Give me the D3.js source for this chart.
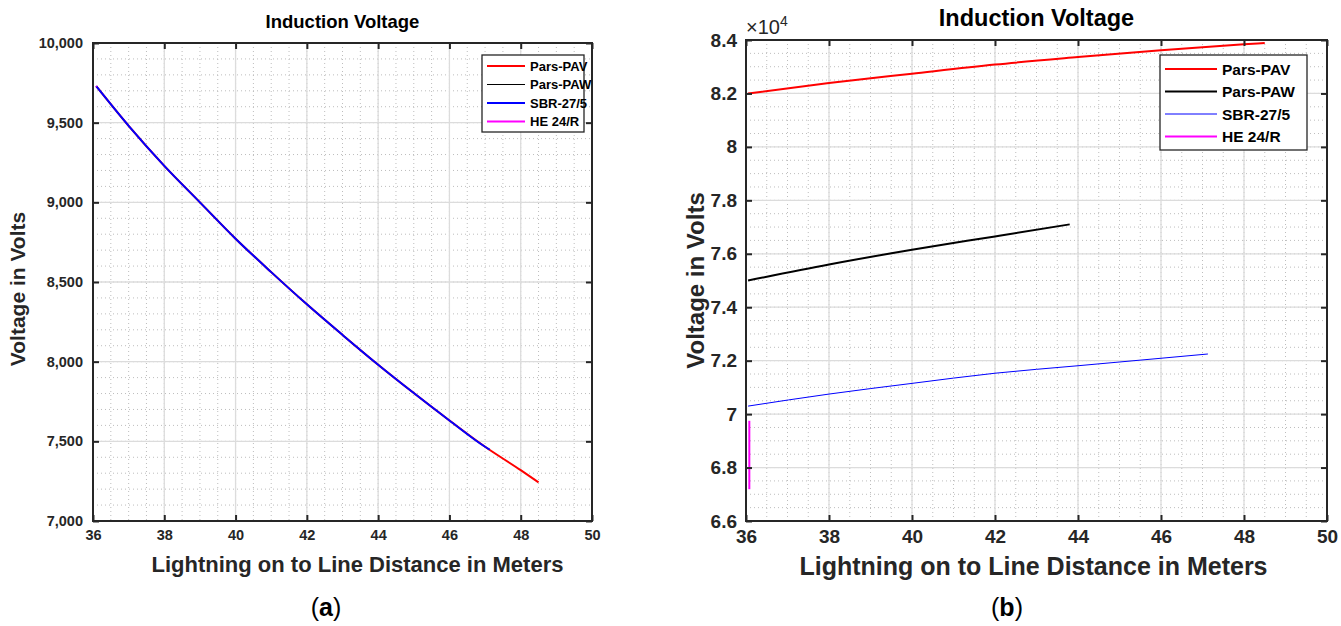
<!DOCTYPE html>
<html><head><meta charset="utf-8">
<script src="https://cdn.jsdelivr.net/npm/d3@7"></script>
<style>
body{margin:0;background:#fff}
text{font-family:"Liberation Sans",Arial,Helvetica,sans-serif}
</style>
</head><body>
<svg id="c" width="1341" height="626"></svg>
<script>
// ---------- data ----------
const seriesNames  = ["Pars-PAV", "Pars-PAW", "SBR-27/5", "HE 24/R"];
const seriesColors = ["#ff0000", "#000000", "#0000ff", "#ff00ff"];

const xTicks  = [36, 38, 40, 42, 44, 46, 48, 50];
const yTicksA = [7000, 7500, 8000, 8500, 9000, 9500, 10000];
const yTicksB = [66000, 68000, 70000, 72000, 74000, 76000, 78000, 80000, 82000, 84000];

// panel (a)
const aPAV_x = [36.09, 37, 38, 39, 40, 41, 42, 43, 44, 45, 46, 47, 48, 48.5];
const aPAV_y = [9729, 9480, 9229, 9000, 8772, 8562, 8360, 8168, 7981, 7803, 7631, 7466, 7319, 7242];
const aPAW_x = [36.09, 37, 38, 39, 40, 41, 42, 43, 43.8];
const aPAW_y = [9729, 9480, 9229, 9000, 8772, 8562, 8360, 8168, 8018];
const aSBR_x = [36.09, 37, 38, 39, 40, 41, 42, 43, 44, 45, 46, 47, 47.13];
const aSBR_y = [9729, 9480, 9229, 9000, 8772, 8562, 8360, 8168, 7981, 7803, 7631, 7466, 7448];
const aHE_x  = [36.09, 36.1];
const aHE_y  = [9729, 9726];

// panel (b)
const bPAV_x = [36.05, 38, 40, 42, 44, 46, 48, 48.5];
const bPAV_y = [82000, 82390, 82740, 83080, 83360, 83620, 83840, 83890];
const bPAW_x = [36.05, 38, 40, 42, 43.8];
const bPAW_y = [75000, 75600, 76150, 76650, 77100];
const bSBR_x = [36.05, 38, 40, 42, 44, 46, 47.13];
const bSBR_y = [70300, 70750, 71150, 71530, 71810, 72090, 72250];
const bHE_x  = [36.08, 36.08];
const bHE_y  = [67190, 69750];

const svg = d3.select("#c");
svg.append("rect").attr("width",1341).attr("height",626).attr("fill","#fff");

function panel(cfg){
  const g = svg.append("g");
  const x = d3.scaleLinear().domain([36,50]).range([cfg.x0, cfg.x1]);
  const y = d3.scaleLinear().domain(cfg.yDom).range([cfg.y1, cfg.y0]);
  const axCol = "#262626";

  // minor grid
  const xMinor = d3.range(36, 50.0001, 0.5);
  const yMinor = d3.range(cfg.yDom[0], cfg.yDom[1] + 1e-6, cfg.yMinorStep);
  g.append("g").selectAll("line").data(xMinor).join("line")
    .attr("x1", d=>x(d)).attr("x2", d=>x(d)).attr("y1", cfg.y0).attr("y2", cfg.y1)
    .attr("stroke","#bdbdbd").attr("stroke-width",1).attr("stroke-dasharray","1,3");
  g.append("g").selectAll("line").data(yMinor).join("line")
    .attr("y1", d=>y(d)).attr("y2", d=>y(d)).attr("x1", cfg.x0).attr("x2", cfg.x1)
    .attr("stroke","#bdbdbd").attr("stroke-width",1).attr("stroke-dasharray","1,3");
  // major grid
  g.append("g").selectAll("line").data(xTicks).join("line")
    .attr("x1", d=>x(d)).attr("x2", d=>x(d)).attr("y1", cfg.y0).attr("y2", cfg.y1)
    .attr("stroke","#dcdcdc").attr("stroke-width",1.3);
  g.append("g").selectAll("line").data(cfg.yTicks).join("line")
    .attr("y1", d=>y(d)).attr("y2", d=>y(d)).attr("x1", cfg.x0).attr("x2", cfg.x1)
    .attr("stroke","#dcdcdc").attr("stroke-width",1.3);

  // data
  const line = d3.line().x(d=>x(d[0])).y(d=>y(d[1])).curve(d3.curveMonotoneX);
  cfg.series.forEach((s,i)=>{
    const pts = s.x.map((v,k)=>[v, s.y[k]]);
    const ln = (s.x[0] === s.x[s.x.length-1]) ? d3.line().x(d=>x(d[0])).y(d=>y(d[1])) : line;
    g.append("path").attr("d", ln(pts)).attr("fill","none")
      .attr("stroke", seriesColors[i]).attr("stroke-width", cfg.widths[i]);
  });

  // axes (inward ticks)
  const ax = g.append("g").attr("transform",`translate(0,${cfg.y1})`)
    .call(d3.axisBottom(x).tickValues(xTicks).tickSize(-6).tickPadding(cfg.xPad));
  const axT = g.append("g").attr("transform",`translate(0,${cfg.y0})`)
    .call(d3.axisTop(x).tickValues(xTicks).tickSize(-6).tickFormat(""));
  const ay = g.append("g").attr("transform",`translate(${cfg.x0},0)`)
    .call(d3.axisLeft(y).tickValues(cfg.yTicks).tickSize(-6).tickPadding(cfg.yPad).tickFormat(cfg.yFmt));
  const ayR = g.append("g").attr("transform",`translate(${cfg.x1},0)`)
    .call(d3.axisRight(y).tickValues(cfg.yTicks).tickSize(-6).tickFormat(""));
  [ax,axT,ay,ayR].forEach(a=>{
    a.select(".domain").remove();
    a.selectAll(".tick line").attr("stroke",axCol).attr("stroke-width",2);
    a.selectAll(".tick text").attr("fill",axCol).attr("font-weight","bold")
      .attr("font-size",cfg.tickFs).attr("font-family",'"Liberation Sans",Arial,sans-serif');
  });
  // box
  g.append("rect").attr("x",cfg.x0).attr("y",cfg.y0)
    .attr("width",cfg.x1-cfg.x0).attr("height",cfg.y1-cfg.y0)
    .attr("fill","none").attr("stroke",axCol).attr("stroke-width",2);

  // title & labels
  g.append("text").attr("x",(cfg.x0+cfg.x1)/2).attr("y",cfg.titleY)
    .attr("text-anchor","middle").attr("font-weight","bold").attr("font-size",cfg.titleFs)
    .attr("fill","#000").text("Induction Voltage");
  g.append("text").attr("x",(cfg.x0+cfg.x1)/2 + cfg.xLabDx).attr("y",cfg.xLabY)
    .attr("text-anchor","middle").attr("font-weight","bold").attr("font-size",cfg.xLabFs)
    .attr("fill",axCol).text("Lightning on to Line Distance in Meters");
  g.append("text").attr("transform",`translate(${cfg.yLabX},${(cfg.y0+cfg.y1)/2 + cfg.yLabDy}) rotate(-90)`)
    .attr("text-anchor","middle").attr("font-weight","bold").attr("font-size",cfg.yLabFs)
    .attr("fill",axCol).text("Voltage in Volts");

  // legend
  const L = cfg.leg;
  const lg = g.append("g");
  lg.append("rect").attr("x",L.x).attr("y",L.y).attr("width",L.w).attr("height",L.h)
    .attr("fill","#fff").attr("stroke","#262626").attr("stroke-width",1.3);
  seriesNames.forEach((n,i)=>{
    const yy = L.y + L.pad + i*L.step;
    lg.append("line").attr("x1",L.x+5).attr("x2",L.x+5+L.lineLen).attr("y1",yy).attr("y2",yy)
      .attr("stroke",seriesColors[i]).attr("stroke-width",cfg.legWidths[i]);
    lg.append("text").attr("x",L.x+10+L.lineLen).attr("y",yy).attr("dy","0.36em")
      .attr("font-weight","bold").attr("font-size",L.fs).attr("fill","#000").text(n);
  });

  // caption
  const cap = g.append("text").attr("x",cfg.capX).attr("y",616).attr("text-anchor","middle")
    .attr("font-family",'"Liberation Serif","DejaVu Serif",serif').attr("font-size",25).attr("fill","#000");
  cap.append("tspan").text("(");
  cap.append("tspan").attr("font-weight","bold").text(cfg.cap);
  cap.append("tspan").text(")");
  return {g,x,y};
}

panel({
  x0:93, x1:592, y0:43, y1:521,
  yDom:[7000,10000], yTicks:yTicksA, yMinorStep:100,
  yFmt: d3.format(","),
  tickFs:14.5, titleFs:18.5, xLabFs:22, yLabFs:21, titleY:28, xLabY:572, yLabX:25,
  xLabDx:15, yLabDy:7,
  xPad:9, yPad:10,
  series:[{x:aPAV_x,y:aPAV_y},{x:aPAW_x,y:aPAW_y},{x:aSBR_x,y:aSBR_y},{x:aHE_x,y:aHE_y}],
  widths:[2,1,2,2], legWidths:[2,1,2,2],
  leg:{x:482, y:55, w:102, h:77, pad:11, step:18.5, lineLen:38, fs:13},
  capX:326, cap:"a"
});

panel({
  x0:746, x1:1327, y0:40, y1:521,
  yDom:[66000,84000], yTicks:yTicksB, yMinorStep:500,
  yFmt: d=>d3.format("~g")(d/1e4),
  tickFs:19, titleFs:23.5, xLabFs:25, yLabFs:24, titleY:26, xLabY:575, yLabX:704,
  xLabDx:-3, yLabDy:0,
  xPad:9, yPad:9,
  series:[{x:bPAV_x,y:bPAV_y},{x:bPAW_x,y:bPAW_y},{x:bSBR_x,y:bSBR_y},{x:bHE_x,y:bHE_y}],
  widths:[2,2,1,2], legWidths:[2,2,1,2],
  leg:{x:1160, y:55, w:147, h:95, pad:14, step:22.5, lineLen:52, fs:15.5},
  capX:1007, cap:"b"
});

// exponent label
const ex = svg.append("text").attr("x",746).attr("y",34).attr("font-size",20).attr("fill","#262626");
ex.append("tspan").text("\u00d710");
ex.append("tspan").attr("dy",-8).attr("font-size",14).text("4");
</script>
</body></html>
